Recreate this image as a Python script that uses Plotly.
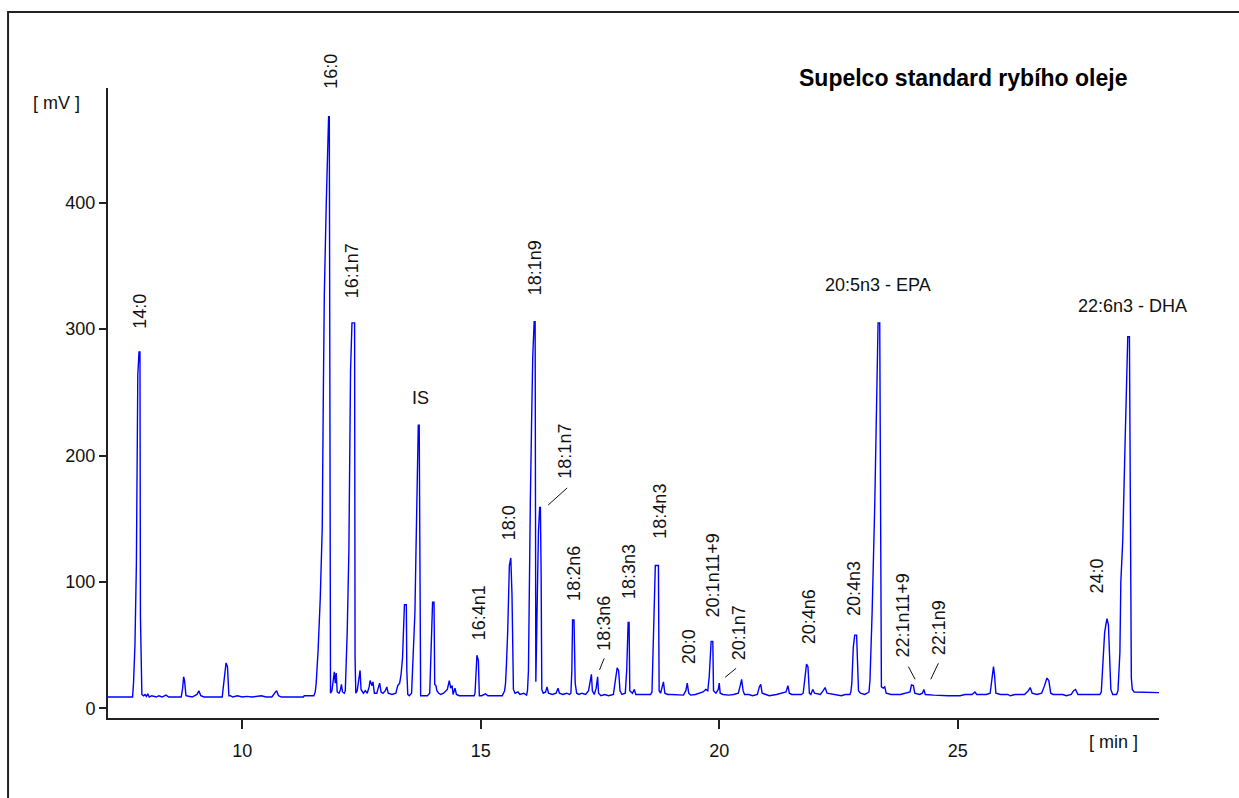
import plotly.graph_objects as go

# ---- chromatogram trace (retention time [min], signal [mV]) ----
time_min = [
    7.185, 7.70, 7.72, 7.75, 7.78, 7.81, 7.835, 7.855, 7.865, 7.895,
    7.93, 7.96, 7.99, 8.02, 8.05, 8.10, 8.20, 8.25, 8.32, 8.40, 8.46,
    8.72, 8.75, 8.77, 8.79, 8.82, 8.95, 9.05, 9.09, 9.13, 9.20,
    9.58, 9.60, 9.64, 9.66, 9.69, 9.72, 9.75, 9.80, 9.90, 10.0, 10.1, 10.2, 10.4, 10.5,
    10.62, 10.68, 10.72, 10.76, 10.82, 11.28, 11.30, 11.50,
    11.53, 11.55, 11.59, 11.635, 11.677, 11.70, 11.72, 11.76, 11.795, 11.81, 11.825, 11.835,
    11.85, 11.88, 11.91, 11.93, 11.95, 11.97, 11.99, 12.03, 12.06, 12.08, 12.10, 12.14,
    12.16, 12.18, 12.20, 12.235, 12.245, 12.27, 12.30, 12.355, 12.365, 12.38,
    12.41, 12.45, 12.47, 12.49, 12.54, 12.58, 12.62, 12.66, 12.68, 12.72, 12.74, 12.77,
    12.82, 12.85, 12.88, 12.91, 12.95, 13.00, 13.03, 13.06, 13.14, 13.22, 13.26, 13.30,
    13.33, 13.36, 13.38, 13.40, 13.44, 13.45, 13.47, 13.50,
    13.55, 13.58, 13.62, 13.64, 13.67, 13.69, 13.71, 13.725, 13.74, 13.80, 13.88,
    13.93, 13.96, 13.99, 14.02, 14.035, 14.06, 14.08, 14.12, 14.16, 14.22, 14.30, 14.34,
    14.37, 14.40, 14.42, 14.46, 14.49, 14.55, 14.86,
    14.88, 14.90, 14.92, 14.95, 14.97, 15.02, 15.10, 15.15, 15.45, 15.50,
    15.52, 15.54, 15.565, 15.60, 15.63, 15.655, 15.685, 15.72, 15.78, 15.82, 15.90, 15.96,
    15.98, 16.00, 16.02, 16.04, 16.065, 16.09, 16.12, 16.14, 16.155,
    16.17, 16.19, 16.21, 16.235, 16.25, 16.265, 16.28, 16.31, 16.36, 16.39, 16.42, 16.50,
    16.58, 16.62, 16.65, 16.72, 16.80, 16.86,
    16.89, 16.91, 16.925, 16.955, 16.965, 16.98, 17.01, 17.06, 17.12, 17.20, 17.26, 17.29,
    17.32, 17.34, 17.38, 17.42, 17.45, 17.47, 17.52, 17.60, 17.68, 17.78, 17.83, 17.86,
    17.89, 17.92, 17.96, 18.03, 18.06, 18.09, 18.11, 18.125, 18.18, 18.22, 18.25, 18.30,
    18.56, 18.59, 18.60, 18.63, 18.66, 18.725, 18.74, 18.77, 18.80, 18.83, 18.86, 18.92,
    19.00, 19.10, 19.25, 19.30, 19.33, 19.36, 19.40, 19.50, 19.58, 19.66, 19.72, 19.76,
    19.79, 19.81, 19.83, 19.865, 19.88, 19.93, 19.98, 20.00, 20.02, 20.08, 20.20, 20.30,
    20.40, 20.44, 20.47, 20.50, 20.53, 20.62, 20.70, 20.80, 20.84, 20.87, 20.90, 20.98,
    21.05, 21.20, 21.30, 21.40, 21.44, 21.47, 21.52, 21.72, 21.76, 21.80, 21.83, 21.86,
    21.89, 21.92, 21.96, 22.00, 22.12, 22.18, 22.22, 22.26, 22.40, 22.56, 22.64, 22.74,
    22.76, 22.78, 22.81, 22.84, 22.88, 22.92, 22.96, 23.05, 23.10,
    23.14, 23.16, 23.205, 23.26, 23.30, 23.33, 23.365, 23.385, 23.40, 23.44, 23.47, 23.50,
    23.60, 23.80, 23.92, 24.00, 24.03, 24.07, 24.10, 24.20, 24.26, 24.29, 24.32, 24.40,
    24.50, 24.80, 25.05, 25.15, 25.30, 25.36, 25.40, 25.50, 25.60, 25.68, 25.72, 25.75,
    25.77, 25.80, 25.90, 26.05, 26.10, 26.20, 26.40, 26.48, 26.52, 26.56, 26.66, 26.76,
    26.82, 26.87, 26.91, 26.95, 27.00, 27.20, 27.28, 27.38, 27.43, 27.47, 27.52, 27.60,
    27.98, 28.01, 28.04, 28.08, 28.11, 28.13, 28.16, 28.185, 28.21, 28.25, 28.33,
    28.36, 28.38, 28.40, 28.42, 28.46, 28.51, 28.565, 28.60, 28.62, 28.64, 28.66, 28.70, 29.22,
]
signal_mv = [
    9, 9, 20, 50, 114, 264, 282, 282, 73, 11,
    10, 11, 9.5, 11.5, 9, 10, 9, 10, 9, 10.5, 9,
    9, 16, 25, 22, 10, 9, 11, 14, 10, 9,
    9, 16, 28, 36, 33, 10, 10, 9, 10, 9, 9.5, 9, 10, 9,
    9, 12.5, 14, 10, 9, 9, 10, 10,
    13, 20, 46, 87, 143, 250, 327, 398, 464, 468, 468, 12.5,
    12, 14, 25, 29, 20, 28, 13, 12, 15, 19, 13, 12,
    14, 32, 60, 124, 190, 267, 305, 305, 40, 12,
    14, 25, 30, 15, 12, 14, 12, 17, 22, 18, 21, 12,
    12, 16, 20, 13, 12, 14, 17, 12, 11, 12, 18, 20,
    27, 40, 60, 82, 82, 30, 11, 10,
    12, 38, 76, 120, 175, 224, 224, 30, 10, 10, 10,
    12, 48, 84, 84, 19, 18, 14, 12, 11, 12, 15, 22,
    16, 18, 11, 16, 11, 10, 10,
    12, 30, 42, 38, 10, 10, 11.5, 10, 10, 14,
    20, 36, 61, 113, 119, 90, 15, 12, 13, 11, 12, 10.5,
    14, 30, 109, 165, 224, 278, 306, 306, 21,
    60, 109, 140, 159, 159, 110, 15, 12, 13, 17, 12, 11,
    12, 16, 12, 11, 12, 11,
    12, 30, 70, 70, 30, 20, 12, 11, 12, 11, 14, 20,
    27, 14, 11, 16, 25, 12, 10, 11, 10, 11, 22, 32,
    30, 14, 11, 12, 30, 68, 68, 14, 12, 15, 11, 11,
    11, 13, 29, 72, 113, 113, 14, 12, 18, 21, 12, 11,
    11, 11, 10.5, 14, 20, 12, 10.5, 11, 12, 13, 15, 14,
    25, 45, 53, 53, 14, 12, 15, 20, 12, 11, 10.5, 11,
    12, 18, 23, 14, 11, 11, 10, 11, 17, 19, 12, 11,
    10, 11, 12, 13, 18, 12, 11, 11, 12, 28, 35, 33,
    12, 11, 15, 12, 11, 14, 16.5, 12, 11, 10, 11, 11,
    13, 20, 48, 58, 58, 14, 12, 11, 12,
    13, 22, 75, 160, 250, 305, 305, 60, 17, 16, 17, 12,
    11, 11, 12, 13, 18.5, 18, 12, 11, 12, 15, 11, 11,
    10.5, 10, 10, 11, 11, 13, 11, 11, 11, 12, 22, 33,
    27, 12, 11, 11, 10, 11, 11, 14, 16.5, 12, 11, 12,
    18, 24, 22, 12, 11, 11, 10, 11, 14, 15, 11, 11,
    11, 13, 37, 60, 67, 71, 66, 40, 15, 11, 11,
    14, 25, 44, 100, 133, 212, 294, 294, 96, 24, 15, 13, 12.5,
]

# ---- peak labels ----
peak_labels = ["14:0", "16:0", "16:1n7", "18:1n9", "18:1n7", "16:4n1", "18:0",
               "18:2n6", "18:3n6", "18:3n3", "18:4n3", "20:0", "20:1n11+9",
               "20:1n7", "20:4n6", "20:4n3", "22:1n11+9", "22:1n9", "24:0"]
peak_label_time = [7.862, 11.844, 12.316, 16.141, 16.770, 14.967, 15.596,
                   16.969, 17.577, 18.122, 18.740, 19.369, 19.872,
                   20.417, 21.884, 22.83, 23.855, 24.609, 27.90]
peak_label_mv = [299.4, 489.2, 323.9, 325.7, 180.7, 52.8, 131.9,
                 84.4, 44.9, 85.8, 133.2, 33.8, 71.3,
                 36.9, 49.6, 72.1, 39.6, 40.9, 89.7]

flat_labels = ["IS", "20:5n3 - EPA", "22:6n3 - DHA"]
flat_label_time = [13.73, 23.32, 28.654]
flat_label_mv = [245.6, 335.0, 318.4]

# leader lines (from, to) for crowded labels
leader_t0 = [16.414, 17.489, 20.123, 23.966, 24.594]
leader_v0 = [160.9, 30.4, 24.6, 33.0, 35.7]
leader_t1 = [16.812, 17.588, 20.354, 24.107, 24.435]
leader_v1 = [174.4, 39.6, 31.7, 23.0, 23.0]

x_ticks = [10, 15, 20, 25]
y_ticks = [0, 100, 200, 300, 400]

FONT = "Liberation Sans, Arial, sans-serif"

fig = go.Figure()
fig.add_trace(go.Scatter(x=time_min, y=signal_mv, mode="lines",
                         line=dict(color="#0000ff", width=1.4),
                         hoverinfo="skip", showlegend=False))

annotations = []
for txt, t, v in zip(peak_labels, peak_label_time, peak_label_mv):
    annotations.append(dict(x=t, y=v, xref="x", yref="y", text=txt, showarrow=False,
                            textangle=-90, xanchor="center", yanchor="bottom",
                            borderpad=0, font=dict(family=FONT, size=18, color="#111")))
for txt, t, v in zip(flat_labels, flat_label_time, flat_label_mv):
    annotations.append(dict(x=t, y=v, xref="x", yref="y", text=txt, showarrow=False,
                            xanchor="center", yanchor="middle", borderpad=0,
                            font=dict(family=FONT, size=18, color="#111")))
annotations.append(dict(x=-0.0488, y=0.9757, xref="paper", yref="paper", text="[ mV ]",
                        showarrow=False, xanchor="center", yanchor="middle",
                        font=dict(family=FONT, size=18, color="#111")))
annotations.append(dict(x=0.957, y=-0.0376, xref="paper", yref="paper", text="[ min ]",
                        showarrow=False, xanchor="center", yanchor="middle",
                        font=dict(family=FONT, size=18, color="#111")))
annotations.append(dict(x=0.6553, y=1.0159, xref="paper", yref="paper",
                        text="<b>Supelco standard rybího oleje</b>",
                        showarrow=False, xanchor="left", yanchor="middle",
                        font=dict(family=FONT, size=23, color="#000")))

shapes = []
for a, b, c, d in zip(leader_t0, leader_v0, leader_t1, leader_v1):
    shapes.append(dict(type="line", xref="x", yref="y", x0=a, y0=b, x1=c, y1=d,
                       line=dict(color="#111", width=1)))
# outer frame of the picture
shapes.append(dict(type="rect", xref="paper", yref="paper",
                   x0=-0.0951, y0=1.1206, x1=1.2, y1=-0.2,
                   line=dict(color="#222", width=2), fillcolor="rgba(0,0,0,0)"))

fig.update_layout(
    width=1239, height=798,
    margin=dict(l=108, r=80, t=88, b=80),
    paper_bgcolor="white", plot_bgcolor="white",
    annotations=annotations, shapes=shapes,
    showlegend=False,
    xaxis=dict(range=[7.185, 29.22], tickvals=x_ticks, showgrid=False, zeroline=False,
               showline=True, linecolor="#222", linewidth=2, ticks="outside",
               ticklen=9, tickwidth=1.5, tickcolor="#222", ticklabelstandoff=6,
               tickfont=dict(family=FONT, size=18, color="#111")),
    yaxis=dict(range=[-7.6, 490.8], tickvals=y_ticks, showgrid=False, zeroline=False,
               showline=True, linecolor="#222", linewidth=2, ticks="outside",
               ticklen=7, tickwidth=1.5, tickcolor="#222",
               tickfont=dict(family=FONT, size=18, color="#111")),
)

fig.write_html("out.html")
